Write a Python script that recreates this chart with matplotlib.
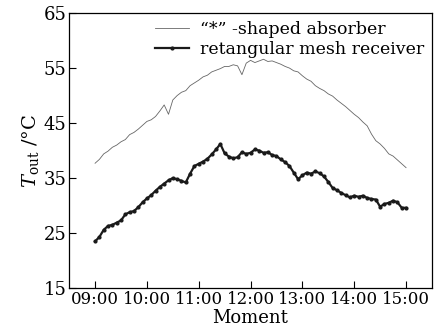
import numpy as np
import matplotlib
matplotlib.use('Agg')
import matplotlib.pyplot as plt

# sampling grid: minutes after midnight, every 5 min from 09:00 to 15:00
minutes = np.arange(540, 901, 5)

absorber = [37.7, 38.4, 39.4, 39.9, 40.6, 41.0, 41.6, 42.0, 42.9, 43.3, 43.9, 44.6,
            45.3, 45.6, 46.2, 47.2, 48.3, 46.6, 49.2, 50.0, 50.6, 50.9, 51.8, 52.3,
            52.8, 53.4, 53.7, 54.3, 54.6, 54.9, 55.3, 55.3, 55.6, 55.4, 53.8, 55.9,
            56.4, 56.0, 56.3, 56.6, 56.2, 56.3, 56.0, 55.7, 55.3, 55.0, 54.5, 54.3,
            53.6, 53.0, 52.6, 51.8, 51.3, 50.9, 50.3, 49.9, 49.2, 48.6, 48.0, 47.3,
            46.6, 46.0, 45.2, 44.5, 43.0, 41.8, 41.2, 40.4, 39.4, 39.0, 38.3, 37.6,
            36.9]

mesh = [23.5, 24.3, 25.6, 26.3, 26.5, 26.9, 27.3, 28.4, 28.8, 29.0, 29.7, 30.6,
        31.3, 31.9, 32.7, 33.4, 34.0, 34.6, 35.0, 34.8, 34.5, 34.2, 35.8, 37.2,
        37.6, 38.0, 38.5, 39.3, 40.2, 41.2, 39.5, 38.9, 38.6, 38.8, 39.7, 39.4,
        39.6, 40.2, 40.0, 39.6, 39.7, 39.2, 39.0, 38.4, 37.9, 37.2, 36.0, 34.8,
        35.5, 36.0, 35.8, 36.2, 35.9, 35.3, 34.3, 33.2, 32.8, 32.3, 31.9, 31.5,
        31.8, 31.6, 31.8, 31.4, 31.2, 31.1, 29.8, 30.3, 30.5, 30.9, 30.6, 29.6,
        29.6]

tick_minutes = [540, 600, 660, 720, 780, 840, 900]
tick_labels = ['09:00', '10:00', '11:00', '12:00', '13:00', '14:00', '15:00']
y_ticks = [15, 25, 35, 45, 55, 65]

plt.rcParams['font.family'] = 'DejaVu Serif'
plt.rcParams['mathtext.fontset'] = 'dejavuserif'

fig = plt.figure(figsize=(4.35, 3.35), dpi=100)
ax = fig.add_axes([0.159, 0.140, 0.834, 0.821])

ax.plot(minutes, absorber, color='#666666', lw=0.6, label='“*” -shaped absorber')
ax.plot(minutes, mesh, color='#1a1a1a', lw=1.6, marker='o', ms=2.0,
        label='retangular mesh receiver')

ax.set_xlim(510, 930)
ax.set_ylim(15, 65)
ax.set_xticks(tick_minutes)
ax.set_xticklabels(tick_labels)
ax.set_yticks(y_ticks)
ax.tick_params(direction='in', length=5, width=0.8, labelsize=12, pad=2)
ax.tick_params(axis='y', labelsize=13)
for s in ax.spines.values():
    s.set_linewidth(0.9)

ax.set_xlabel('Moment', fontsize=13, labelpad=1)
ax.set_ylabel(r'$T_{\rm out}$ /°C', fontsize=14, labelpad=2)

ax.legend(loc='upper right', frameon=False, fontsize=12.5,
          borderaxespad=0.05, handlelength=2.0, labelspacing=0.2, handletextpad=0.6)

fig.savefig('out.png', dpi=100)
